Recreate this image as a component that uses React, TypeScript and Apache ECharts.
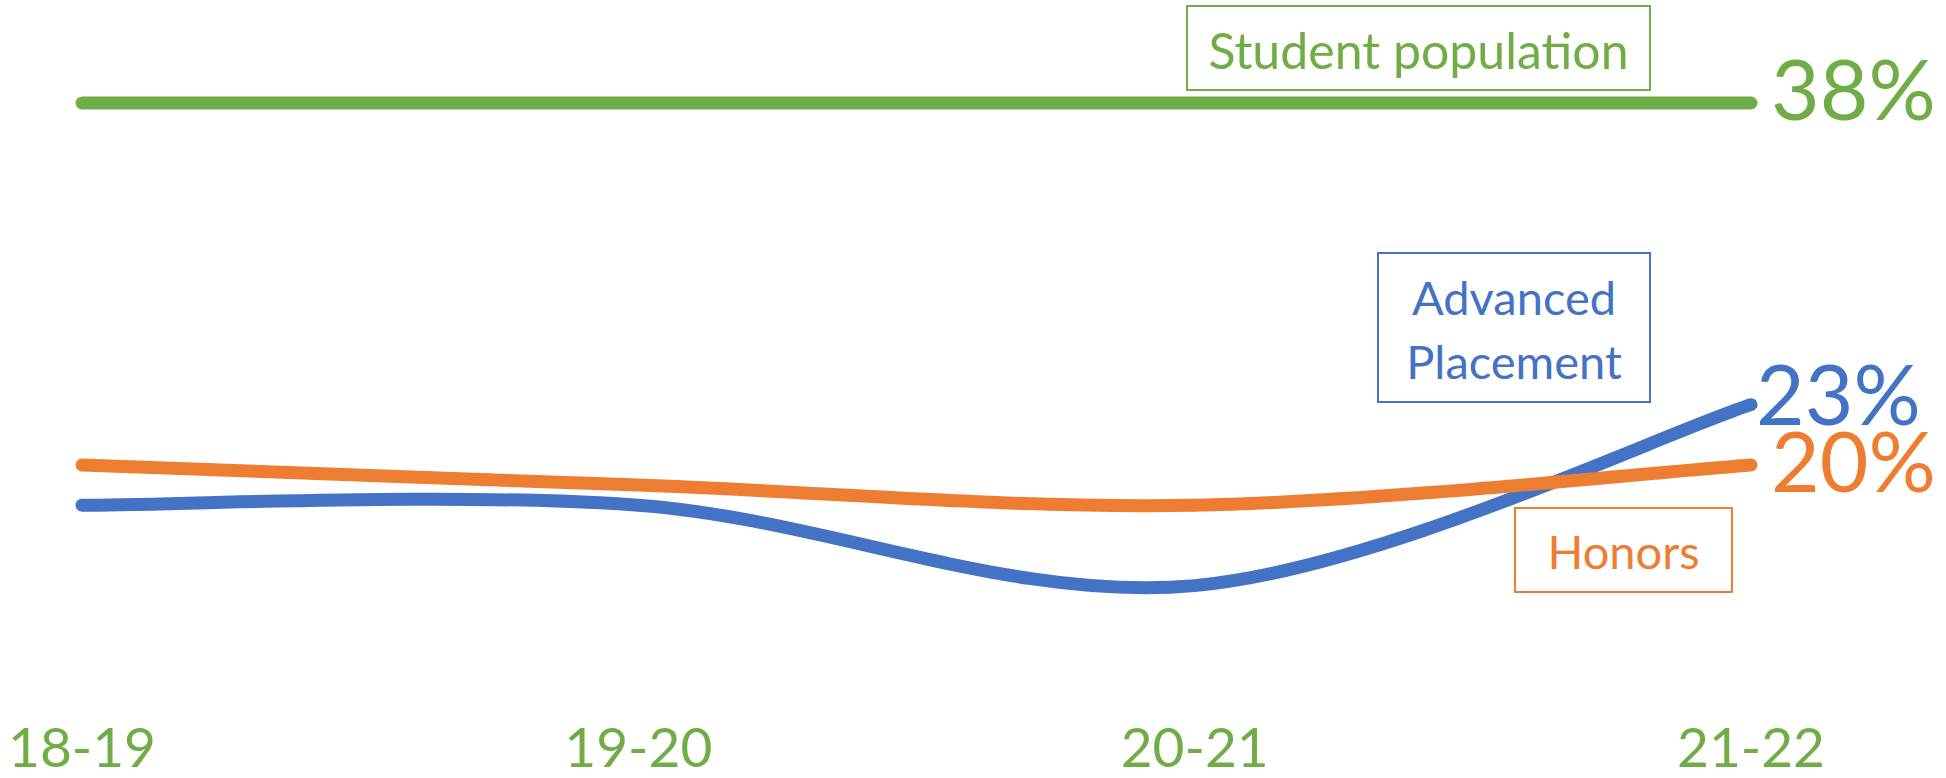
import React, { useEffect, useRef } from "react";
import * as echarts from "echarts";

const categories = ["18-19", "19-20", "20-21", "21-22"];
const studentPopulation = [38, 38, 38, 38];
const advancedPlacement = [18, 18, 14, 23];
const honors = [20, 19, 18, 20];

const GREEN = "#70AD47";
const BLUE = "#4472C4";
const ORANGE = "#ED7D31";
const FONT = "Lato";
const LINE_W = 13;

// Excel-like smoothed curve (Catmull-Rom bezier) as a single path
const SmoothCurve = echarts.graphic.extendShape({
  shape: { points: [] as number[][] },
  buildPath(ctx: any, shape: any) {
    const pts: number[][] = shape.points;
    const n = pts.length;
    if (!n) return;
    ctx.moveTo(pts[0][0], pts[0][1]);
    for (let i = 0; i < n - 1; i++) {
      const p0 = pts[Math.max(i - 1, 0)];
      const p1 = pts[i];
      const p2 = pts[i + 1];
      const p3 = pts[Math.min(i + 2, n - 1)];
      ctx.bezierCurveTo(
        p1[0] + (p2[0] - p0[0]) / 6,
        p1[1] + (p2[1] - p0[1]) / 6,
        p2[0] - (p3[0] - p1[0]) / 6,
        p2[1] - (p3[1] - p1[1]) / 6,
        p2[0],
        p2[1]
      );
    }
  },
});
echarts.graphic.registerShape("smoothCurve", SmoothCurve);

function smoothSeries(
  name: string,
  values: number[],
  color: string,
  labelDx: number,
  labelDy: number,
  z: number
) {
  const n = values.length;
  return {
    name,
    type: "custom",
    z,
    data: values.map((v, i) => [i, v]),
    encode: { x: 0, y: 1 },
    clip: false,
    renderItem: (params: any, api: any) => {
      const idx = params.dataIndex;
      const pts = values.map((v, i) => api.coord([i, v]));
      if (idx === 0) {
        return {
          type: "smoothCurve",
          shape: { points: pts },
          style: { stroke: color, lineWidth: LINE_W, lineCap: "round", lineJoin: "round", fill: null },
        };
      }
      if (idx === n - 1) {
        const p = pts[idx];
        return {
          type: "text",
          x: p[0] + labelDx,
          y: p[1] + labelDy,
          style: {
            text: `${values[idx]}%`,
            fill: color,
            fontFamily: FONT,
            fontSize: 84,
            lineHeight: 62,
            align: "left",
            verticalAlign: "middle",
          },
        };
      }
      return null;
    },
  };
}

export default function App() {
  const ref = useRef<HTMLDivElement>(null);

  useEffect(() => {
    if (!ref.current) return;
    const chart = echarts.init(ref.current, undefined, { renderer: "svg" });

    const box = (
      x: number,
      y: number,
      w: number,
      h: number,
      color: string,
      text: string,
      ty: number,
      size: number
    ) => ({
      type: "group",
      children: [
        {
          type: "rect",
          shape: { x, y, width: w, height: h },
          style: { fill: "none", stroke: color, lineWidth: 2 },
        },
        {
          type: "text",
          x: x + w / 2,
          y: ty,
          style: {
            text,
            fill: color,
            font: `${size}px ${FONT}`,
            align: "center",
            verticalAlign: "middle",
            lineHeight: 64,
          },
        },
      ],
    });

    chart.setOption({
      animation: false,
      backgroundColor: "#ffffff",
      grid: { left: 82, right: 195, top: 62.8, bottom: 51.6, containLabel: false },
      xAxis: {
        type: "category",
        data: categories,
        boundaryGap: false,
        axisLine: { show: false },
        axisTick: { show: false },
        splitLine: { show: false },
        axisLabel: {
          color: GREEN,
          fontFamily: FONT,
          fontSize: 55,
          lineHeight: 46,
          margin: -3,
          interval: 0,
        },
      },
      yAxis: {
        type: "value",
        min: 7,
        max: 40,
        show: false,
        splitLine: { show: false },
      },
      series: [
        smoothSeries("Student population", studentPopulation, GREEN, 20, -16, 2),
        smoothSeries("Advanced Placement", advancedPlacement, BLUE, 5, -12, 3),
        smoothSeries("Honors", honors, ORANGE, 20, -5, 4),
      ],
      graphic: [
        box(1187, 6, 463, 84, GREEN, "Student population", 50, 50),
        box(1378, 253, 272, 149, BLUE, "Advanced\nPlacement", 329, 47),
        box(1515, 508, 217, 84, ORANGE, "Honors", 551, 47),
      ],
    });

    return () => chart.dispose();
  }, []);

  return (
    <div
      ref={ref}
      style={{ position: "fixed", left: 0, top: 0, width: 1946, height: 778, background: "#fff" }}
    />
  );
}
